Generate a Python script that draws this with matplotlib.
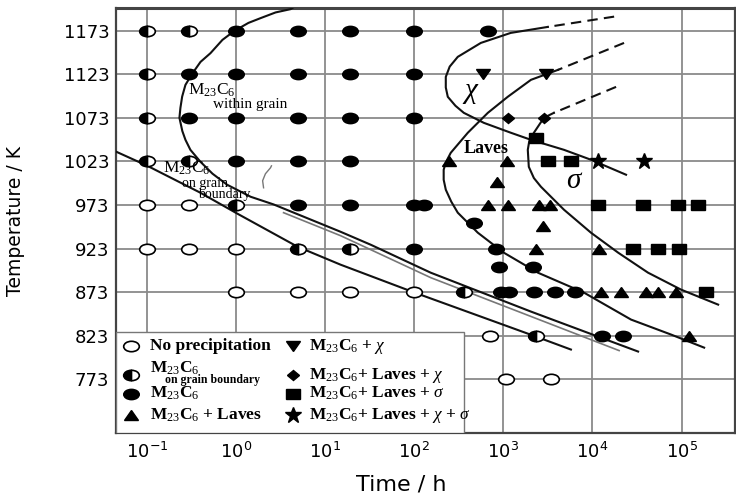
import matplotlib
matplotlib.use("Agg")
import matplotlib.pyplot as plt
from matplotlib.markers import MarkerStyle
from matplotlib.transforms import Affine2D
from matplotlib.patches import Rectangle

plt.rcParams["font.family"] = ["DejaVu Sans"]
plt.rcParams["mathtext.fontset"] = "custom"
plt.rcParams["mathtext.rm"] = "Liberation Serif"
plt.rcParams["mathtext.it"] = "Liberation Serif:italic"
plt.rcParams["mathtext.bf"] = "Liberation Serif:bold"
plt.rcParams["mathtext.sf"] = "DejaVu Sans"

# ---- observations: ageing time (h) and temperature (K) ----
none_t = [0.1, 0.3, 0.1, 0.3, 1, 1, 5, 19, 100, 710, 1070, 3400]
none_T = [973, 973, 923, 923, 923, 873, 873, 873, 873, 823, 773, 773]

gb_t = [0.1, 0.3, 0.1, 0.1, 0.1, 0.3, 1, 5, 19, 360, 2300]
gb_T = [1173, 1173, 1123, 1073, 1023, 1023, 973, 923, 923, 873, 823]

m23_t = [1, 5, 19, 100, 670,
         0.3, 1, 5, 19, 100,
         0.3, 1, 5, 19, 100,
         1, 5, 19,
         5, 19, 100, 128,
         470,
         100, 820,
         900, 2130,
         940, 1160, 2220, 3790, 6410,
         12700, 21800]
m23_T = [1173] * 5 + [1123] * 5 + [1073] * 5 + [1023] * 3 + [973] * 4 + [952] \
    + [923] * 2 + [902] * 2 + [873] * 5 + [823] * 2

laves_t = [246, 1095, 838, 664, 1115, 2525, 3330, 2760, 2320, 11900,
           12500, 20900, 39900, 54000, 86700, 122000]
laves_T = [1023, 1023, 1000, 973, 973, 973, 973, 949, 923, 923,
           873, 873, 873, 873, 873, 823]

chi_t = [584, 3000]
chi_T = [1123, 1123]

laves_chi_t = [1130, 2830]
laves_chi_T = [1073, 1073]

laves_sig_t = [2320, 3140, 5730, 11400, 36600, 90600, 152000, 28300, 54000, 94500, 188000]
laves_sig_T = [1050, 1023, 1023, 973, 973, 973, 973, 923, 923, 923, 873]

all_t = [11400, 38200]
all_T = [1023, 1023]

# ---- boundary curves ----
grain_t = [4.4, 4.1, 2.78, 1.88, 1.38, 0.96, 0.705, 0.517, 0.40, 0.322, 0.271, 0.249,
           0.238, 0.232, 0.250, 0.271, 0.308, 0.399, 0.545, 0.796, 1.46,
           2.64, 14.9, 32.5, 153, 2040, 32500]
grain_T = [1200, 1198, 1194.2, 1187.6, 1182.2, 1173.0, 1162.7, 1147.4, 1137.4, 1123.7,
           1111.0, 1097.6, 1084.6, 1073.2, 1058.0, 1047.9, 1036.4, 1022.7, 1009.0,
           996.3, 982.5, 973.7, 942.3, 927.4, 895.3, 850.6, 804.7]

gray_t = [3.42, 14.9, 32.5, 153, 19900]
gray_T = [964.2, 937.8, 921.7, 889.6, 805.8]

hook_t = [2.5, 2.44, 2.14, 1.99, 2.04]
hook_T = [1018, 1015.8, 1008.9, 1000.9, 992.8]

gbline_t = [0.0454, 0.101, 0.399, 1.04, 4.91, 14.9, 101, 2320, 5730]
gbline_T = [1034.2, 1018.1, 987.1, 963.0, 925.1, 904.5, 872.4, 821.9, 807.0]

chi_dash_t = [17500, 3160]
chi_dash_T = [1189.4, 1177.6]
chi_line_t = [3160, 1210, 559, 308, 250, 226, 226, 238, 290, 360, 604, 1215, 2040,
              4790, 9620, 23800]
chi_line_T = [1177.6, 1170.7, 1159.2, 1143.2, 1132.0, 1120.2, 1108.0, 1097.3, 1087.0,
              1078.9, 1067.4, 1056.0, 1047.9, 1036.4, 1025.0, 1007.8]

lav_dash_t = [22600, 4090]
lav_dash_T = [1159.2, 1128.2]
lav_line_t = [4090, 2040, 1120, 670, 399, 257, 226, 214, 214, 226, 260, 308, 517, 1010,
              2440, 8020, 27100, 76200, 179000]
lav_line_T = [1128.2, 1116.8, 1097.3, 1078.9, 1056.0, 1033.0, 1022.0, 1013.5, 1002.0,
              990.6, 977.0, 964.2, 941.2, 918.3, 895.3, 872.4, 841.4, 824.2, 809.2]

sig_dash_t = [18400, 3690]
sig_dash_T = [1108.7, 1078.9]
sig_line_t = [3690, 2850, 2200, 1950, 1880, 1930, 2200, 2640, 4790, 9620, 19400, 42000,
              98700, 257000]
sig_line_T = [1078.9, 1073.2, 1056.0, 1046.0, 1036.4, 1016.9, 1004.0, 994.0, 967.6,
              941.2, 918.3, 895.3, 875.8, 858.6]

temp_ticks = [773, 823, 873, 923, 973, 1023, 1073, 1123, 1173]
time_ticks = [1e-1, 1e0, 1e1, 1e2, 1e3, 1e4, 1e5]
time_labels = [r"$\mathsf{10^{-1}}$", r"$\mathsf{10^{0}}$", r"$\mathsf{10^{1}}$",
               r"$\mathsf{10^{2}}$", r"$\mathsf{10^{3}}$", r"$\mathsf{10^{4}}$",
               r"$\mathsf{10^{5}}$"]

M23 = r"M$_{23}$C$_6$"


def mk(m, sx, fill="full"):
    return MarkerStyle(m, fillstyle=fill, transform=Affine2D().scale(sx, 1.0))


styles = {
    "none": dict(marker=mk("o", 1.5), ms=7.5, mfc="white", mec="black", mew=1.2),
    "gb": dict(marker=mk("o", 1.5, "left"), ms=7.5, mfc="black",
               markerfacecoloralt="white", mec="black", mew=1.2),
    "m23": dict(marker=mk("o", 1.5), ms=7.5, mfc="black", mec="black"),
    "laves": dict(marker=mk("^", 1.4), ms=7, mfc="black", mec="black"),
    "chi": dict(marker=mk("v", 1.4), ms=7, mfc="black", mec="black"),
    "laves_chi": dict(marker=mk("D", 1.25), ms=5.2, mfc="black", mec="black"),
    "laves_sig": dict(marker=mk("s", 1.4), ms=7.2, mfc="black", mec="black"),
    "all": dict(marker=mk("*", 1.05), ms=12, mfc="black", mec="black"),
}

fig = plt.figure(figsize=(7.36, 4.95), dpi=100)
ax = fig.add_axes([0.158, 0.125, 0.841, 0.859])
ax.set_xscale("log")
ax.set_xlim(0.0454, 4.0e5)
ax.set_ylim(711, 1199.4)

ax.set_xticks(time_ticks)
ax.set_xticklabels(time_labels)
ax.set_yticks(temp_ticks)
ax.set_yticklabels([str(v) for v in temp_ticks])
ax.minorticks_off()
ax.tick_params(length=0, labelsize=13)
ax.tick_params(axis="x", pad=6)
ax.tick_params(axis="y", pad=5)
ax.grid(True, color="#8a8a8a", lw=1.3)
ax.set_axisbelow(True)
for side in ax.spines:
    ax.spines[side].set_color("#444444")
    ax.spines[side].set_linewidth(1.6)
ax.spines["top"].set_linewidth(2.2)

ax.set_ylabel("Temperature / K", fontsize=13.5)
ax.yaxis.set_label_coords(-0.147, 0.5)
ax.set_xlabel("Time / h", fontsize=16)
ax.xaxis.set_label_coords(0.46, -0.098)

# boundary curves
solid = dict(color="#111111", lw=1.5, zorder=3)
dashed = dict(color="#111111", lw=1.5, ls=(0, (5, 3)), zorder=3)
ax.plot(grain_t, grain_T, **solid)
ax.plot(gbline_t, gbline_T, **solid)
ax.plot(gray_t, gray_T, color="#777777", lw=1.2, zorder=3)
ax.plot(hook_t, hook_T, color="#777777", lw=1.0, zorder=3)
ax.plot(chi_line_t, chi_line_T, **solid)
ax.plot(chi_dash_t, chi_dash_T, **dashed)
ax.plot(lav_line_t, lav_line_T, **solid)
ax.plot(lav_dash_t, lav_dash_T, **dashed)
ax.plot(sig_line_t, sig_line_T, **solid)
ax.plot(sig_dash_t, sig_dash_T, **dashed)

# observations
for key, t, T in [("none", none_t, none_T), ("gb", gb_t, gb_T), ("m23", m23_t, m23_T),
                  ("laves", laves_t, laves_T), ("chi", chi_t, chi_T),
                  ("laves_chi", laves_chi_t, laves_chi_T),
                  ("laves_sig", laves_sig_t, laves_sig_T), ("all", all_t, all_T)]:
    ax.plot(t, T, ls="none", zorder=5, **styles[key])

# region labels
serif = dict(fontfamily="Liberation Serif", zorder=6, va="center", ha="left")
ax.text(0.293, 1105, M23, fontsize=12.5, **serif)
ax.text(0.559, 1089, "within grain", fontsize=11, **serif)
ax.text(0.153, 1015.5, M23, fontsize=12.5, **serif)
ax.text(0.25, 998, "on grain", fontsize=10, **serif)
ax.text(0.379, 985, "boundary", fontsize=10, **serif)
ax.text(431, 1103, r"$\chi$", fontsize=21, zorder=6, ha="center", va="center")
ax.text(362, 1038.4, "Laves", fontsize=13, fontweight="bold", **serif)
ax.text(6240, 1002, r"$\sigma$", fontsize=21, zorder=6, ha="center", va="center")

# legend panel
ax.add_patch(Rectangle((0, 0), 0.562, 0.2376, transform=ax.transAxes,
                       facecolor="white", edgecolor="#777777", lw=1.0, zorder=8))
leg = dict(fontfamily="Liberation Serif", fontweight="bold", fontsize=12.5,
           va="center", ha="left", transform=ax.transAxes, zorder=9)
entries = [
    ("none", 0.0242, 0.2047, 0.0549, 0.2047, "No precipitation"),
    ("gb", 0.0242, 0.1365, 0.0549, 0.153, M23),
    ("m23", 0.0242, 0.0925, 0.0549, 0.0925, M23),
    ("laves", 0.0242, 0.0424, 0.0549, 0.0424, M23 + " + Laves"),
    ("chi", 0.286, 0.2047, 0.3118, 0.2047, M23 + r" + $\chi$"),
    ("laves_chi", 0.286, 0.1365, 0.3118, 0.1365, M23 + r"+ Laves + $\chi$"),
    ("laves_sig", 0.286, 0.0925, 0.3118, 0.0925, M23 + r"+ Laves + $\sigma$"),
    ("all", 0.286, 0.0424, 0.3118, 0.0424, M23 + r"+ Laves + $\chi$ + $\sigma$"),
]
for key, mx, my, tx, ty, label in entries:
    ax.plot([mx], [my], ls="none", transform=ax.transAxes, clip_on=False,
            zorder=9, **styles[key])
    ax.text(tx, ty, label, **leg)
ax.text(0.078, 0.124, "on grain boundary", fontfamily="Liberation Serif",
        fontweight="bold", fontsize=8.5, va="center", ha="left",
        transform=ax.transAxes, zorder=9)

fig.savefig("out.png", dpi=100)
